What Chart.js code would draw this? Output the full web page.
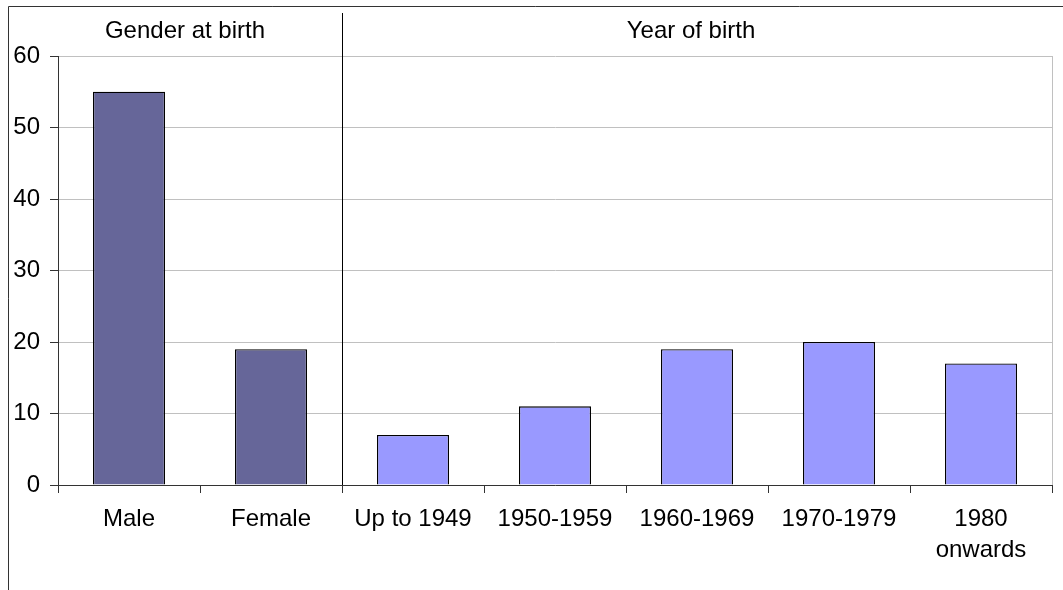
<!DOCTYPE html>
<html><head><meta charset="utf-8">
<script src="https://cdn.jsdelivr.net/npm/chart.js@4.4.0/dist/chart.umd.min.js"></script>
<style>html,body{margin:0;padding:0;background:#fff;}canvas{display:block;}</style>
</head><body>
<canvas id="c" width="1063" height="590"></canvas>
<script>
const categories = ["Male", "Female", "Up to 1949", "1950-1959", "1960-1969", "1970-1979", ["1980", "onwards"]];
const values = [55, 19, 7, 11, 19, 20, 17];
const barColors = ["#666699", "#666699", "#9999FF", "#9999FF", "#9999FF", "#9999FF", "#9999FF"];
const groupLabels = ["Gender at birth", "Year of birth"];
const groupLabelX = [185, 691];
const yTicks = [0, 10, 20, 30, 40, 50, 60];

const FONT = "'Liberation Sans', Arial, sans-serif";

const decor = {
  id: 'decor',
  afterDraw(chart) {
    const ctx = chart.ctx, x = chart.scales.x, ca = chart.chartArea;
    ctx.save();
    ctx.strokeStyle = '#333';
    ctx.lineWidth = 1;
    ctx.beginPath();
    ctx.moveTo(8.5, 590); ctx.lineTo(8.5, 6.5); ctx.lineTo(1063, 6.5);
    ctx.stroke();
    ctx.strokeStyle = '#c0c0c0';
    ctx.beginPath();
    ctx.moveTo(Math.round(ca.right) + 0.5, ca.top); ctx.lineTo(Math.round(ca.right) + 0.5, ca.bottom);
    ctx.stroke();
    const half = (x.getPixelForValue(1) - x.getPixelForValue(0)) / 2;
    const dx = Math.round(x.getPixelForValue(1) + half) + 0.5;
    ctx.strokeStyle = '#000';
    ctx.beginPath();
    ctx.moveTo(dx, 13); ctx.lineTo(dx, ca.bottom);
    ctx.stroke();
    ctx.fillStyle = '#000';
    ctx.font = '24px ' + FONT;
    ctx.textAlign = 'center';
    ctx.textBaseline = 'middle';
    groupLabels.forEach((t, i) => ctx.fillText(t, groupLabelX[i], 31));
    ctx.restore();
  }
};

new Chart(document.getElementById('c'), {
  type: 'bar',
  data: {
    labels: categories,
    datasets: [{
      data: values,
      backgroundColor: barColors,
      borderColor: '#000',
      borderWidth: 1.3,
      categoryPercentage: 1,
      barPercentage: 0.507
    }]
  },
  options: {
    responsive: false,
    animation: false,
    layout: { padding: { left: 0, top: 56, right: 11, bottom: 0 } },
    plugins: { legend: { display: false }, tooltip: { enabled: false } },
    scales: {
      x: {
        grid: { offset: true, drawOnChartArea: false, tickLength: 8, color: '#333', tickColor: '#333' },
        border: { color: '#333', width: 1 },
        ticks: { color: '#000', font: { family: FONT, size: 24, lineHeight: 1.3 }, padding: 11, maxRotation: 0, autoSkip: false },
        afterFit(s) { s.height = 105; }
      },
      y: {
        min: 0, max: 60,
        afterBuildTicks(s) { s.ticks = yTicks.map(v => ({ value: v })); },
        grid: { color: '#c0c0c0', tickLength: 8, tickColor: '#333' },
        border: { color: '#333', width: 1 },
        ticks: { color: '#000', font: { family: FONT, size: 24 }, padding: 10 },
        afterFit(s) { s.width = 58; }
      }
    }
  },
  plugins: [decor]
});
</script>
</body></html>
